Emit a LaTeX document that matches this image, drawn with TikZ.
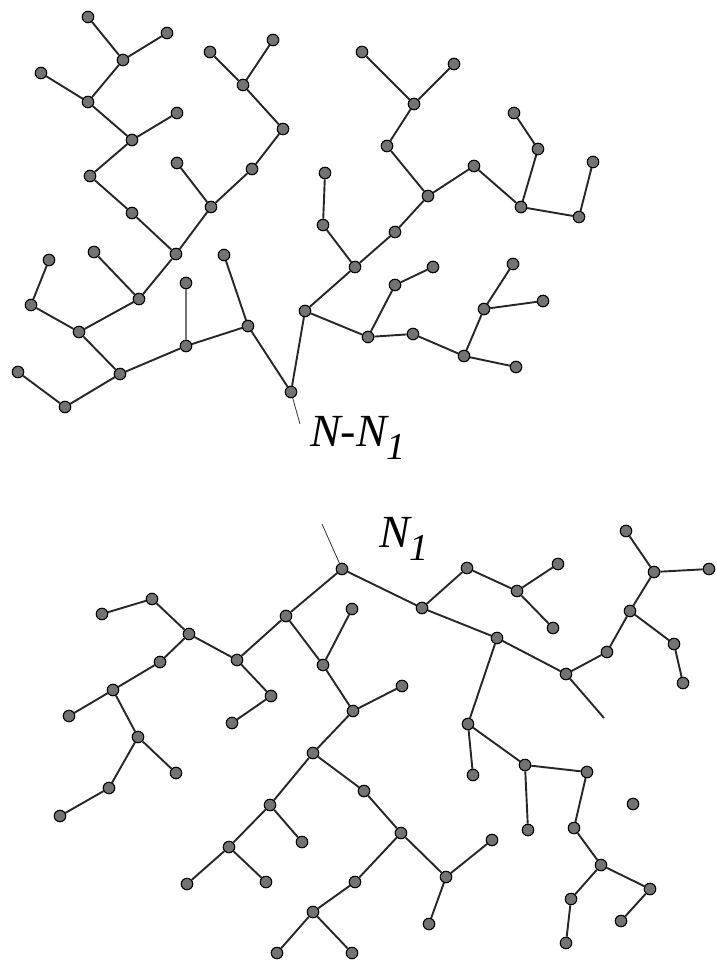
\documentclass[tikz,border=0pt]{standalone}
\usepackage{fontspec}
\setmainfont{Liberation Serif}[ItalicFont=Liberation Serif Italic]
\begin{document}
\begin{tikzpicture}[x=1pt,y=-1pt,
  dot/.style={circle,draw=black,fill=black!55,line width=1.1pt,minimum size=11.5pt,inner sep=0pt},
  edge/.style={line width=1.9pt,draw=black!85},
  stub/.style={line width=0.8pt,draw=black!80},
  lab/.style={inner sep=0pt,anchor=base west,font=\fontsize{46}{50}\selectfont\itshape}]
\useasboundingbox (0,0) rectangle (716,963);
% top tree nodes
\foreach \n/\x/\y in {a1/88/17,a2/123/60,a3/167/33,a4/41/73,a5/88/102,a6/132/140,a7/177/113,a8/90/176,a9/132/213,
 b1/210/52,b2/273/40,b3/243/85,b4/283/129,b5/252/169,b6/177/163,b7/211/207,
 c1/176/254,c2/94/252,c3/139/299,c4/49/260,c5/31/305,c6/79/332,c7/120/374,c8/18/372,c9/65/407,
 c10/186/346,c11/186/283,c12/248/326,c13/224/255,r1/291/392,
 d0/305/311,d1/355/267,d2/323/225,d3/325/173,d4/395/232,d5/368/337,d6/395/285,d7/433/267,
 d8/413/334,d9/464/356,d10/516/367,d11/484/309,d12/513/264,d13/543/301,
 e1/362/52,e2/454/64,e3/414/104,e4/387/146,e5/428/196,e6/474/166,e7/521/207,e8/538/149,
 e9/514/113,e10/593/162,e11/579/217}
  \node[dot] (\n) at (\x,\y) {};
% bottom tree nodes
\foreach \n/\x/\y in {R/342/569,f1/286/616,f2/237/660,f3/189/634,f4/152/599,f5/102/614,f6/160/662,f7/113/690,
 f8/69/716,f9/138/737,f10/271/696,f11/232/723,f12/323/665,f13/352/609,f14/353/711,f15/176/773,
 f16/109/788,f17/60/816,g1/313/753,g2/270/805,g3/302/842,g4/229/847,g5/187/884,g6/266/882,
 g7/355/882,g8/313/912,g9/277/953,g10/352/953,j1/402/686,k1/364/791,k2/401/833,k3/446/877,
 k4/492/840,k5/429/924,i1/422/608,i2/467/568,i3/517/591,i4/558/564,i5/553/628,i6/497/638,
 i7/566/674,i8/607/652,i9/630/611,i10/654/572,i11/626/531,i12/709/569,i13/674/644,i14/683/683,
 h1/468/724,h2/473/775,h3/525/765,h4/528/830,h5/587/772,h6/574/828,h7/601/865,h8/650/889,
 h9/621/921,h10/571/899,h11/566/943,iso/633/804}
  \node[dot] (\n) at (\x,\y) {};
% top tree edges
\foreach \a/\b in {a1/a2,a2/a3,a2/a5,a4/a5,a5/a6,a6/a7,a6/a8,a8/a9,a9/c1,b1/b3,b2/b3,b3/b4,b4/b5,b5/b7,
 b6/b7,b7/c1,c1/c3,c2/c3,c3/c6,c4/c5,c5/c6,c6/c7,c8/c9,c9/c7,c7/c10,c10/c12,c13/c12,c12/r1,
 r1/d0,d0/d1,d1/d2,d2/d3,d1/d4,d4/e5,d0/d5,d5/d6,d6/d7,d5/d8,d8/d9,d9/d10,d9/d11,d11/d12,d11/d13,
 e1/e3,e2/e3,e3/e4,e4/e5,e5/e6,e6/e7,e7/e8,e8/e9,e7/e11,e10/e11}
  \draw[edge] (\a) -- (\b);
\draw[edge,draw=black!55] (c10) -- (c11);
% bottom tree edges
\foreach \a/\b in {R/f1,f1/f2,f2/f3,f3/f4,f4/f5,f3/f6,f6/f7,f7/f8,f7/f9,f9/f15,f9/f16,f16/f17,f2/f10,
 f10/f11,f1/f12,f12/f13,f12/f14,f14/j1,f14/g1,g1/g2,g2/g3,g2/g4,g4/g5,g4/g6,g1/k1,k1/k2,k2/g7,
 k2/k3,k3/k4,k3/k5,g7/g8,g8/g9,g8/g10,R/i1,i1/i2,i2/i3,i3/i4,i3/i5,i1/i6,i6/i7,i7/i8,i8/i9,
 i9/i10,i10/i11,i10/i12,i9/i13,i13/i14,i6/h1,h1/h2,h1/h3,h3/h4,h3/h5,h5/h6,h6/h7,h7/h8,h8/h9,
 h7/h10,h10/h11}
  \draw[edge] (\a) -- (\b);
% stubs
\coordinate (s1) at (300,424);
\coordinate (s2) at (322,524);
\coordinate (s3) at (604,718);
\draw[stub] (r1) -- (s1);
\draw[stub] (R) -- (s2);
\draw[edge] (i7) -- (s3);
% labels
\node[lab] (l1) at (310,446) {N-N\raisebox{-13pt}{\fontsize{38}{42}\selectfont 1}};
\node[lab] (l2) at (379,547) {N\raisebox{-13pt}{\fontsize{38}{42}\selectfont 1}};
\end{tikzpicture}
\end{document}
